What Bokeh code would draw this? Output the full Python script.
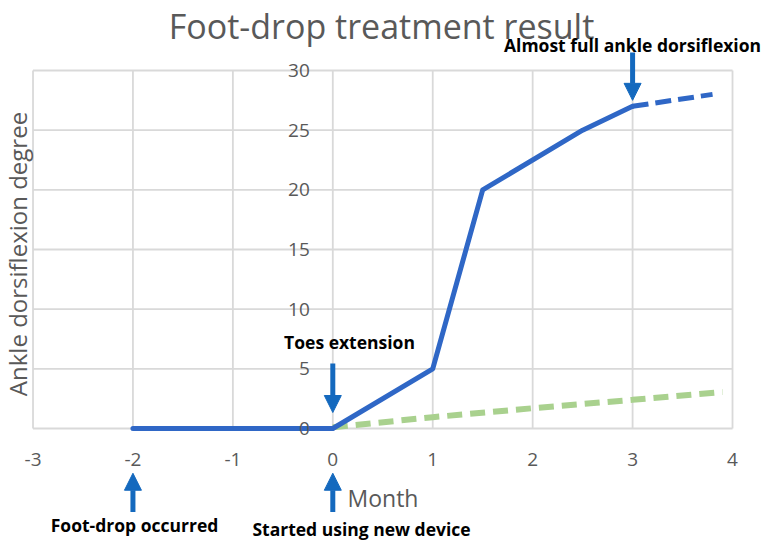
import math
from bokeh.plotting import figure
from bokeh.models import Range1d, FixedTicker, Label, Arrow, NormalHead
from bokeh.embed import file_html
from bokeh.resources import INLINE

# ---------------- data ----------------
title_text = "Foot-drop treatment result"
y_axis_title = "Ankle dorsiflexion degree"
x_axis_title = "Month"

x_ticks = [-3, -2, -1, 0, 1, 2, 3, 4]
x_tick_labels = ["-3", "-2", "-1", "0", "1", "2", "3", "4"]
y_ticks = [0, 5, 10, 15, 20, 25, 30]
y_tick_labels = ["0", "5", "10", "15", "20", "25", "30"]

months_measured = [-2, 0, 1, 1.5, 2.5, 3]
degree_measured = [0, 0, 5, 20, 25, 27]

months_projected = [3, 3.8]
degree_projected = [27, 28]

months_baseline = [0, 1, 2, 3, 3.9]
degree_baseline = [0.1, 0.95, 1.7, 2.4, 3.05]

event_labels = ["Foot-drop occurred", "Started using new device",
                "Toes extension", "Almost full ankle dorsiflexion"]
event_months = [-2, 0, 0, 3]

# ---------------- layout / style ----------------
W, H = 762, 541
PX_X = 99.93
X0_PIX = 332.3
PX_Y = 11.933
Y0_PIX = 428.0
x_start = -X0_PIX / PX_X
x_end = (W - X0_PIX) / PX_X
y_end = Y0_PIX / PX_Y
y_start = (Y0_PIX - H) / PX_Y

BLUE = "#2F67C6"
ARROW = "#1469BE"
GREEN = "#A9D18E"
GRID = "#D9D9D9"
GRAY = "#595959"
FONT = "Open Sans"


def sy(baseline_px, font_px):
    """screen y (from bottom) for an alphabetic baseline at a given pixel row"""
    return H - baseline_px + 0.32 * font_px


p = figure(width=W, height=H, x_range=Range1d(x_start, x_end),
           y_range=Range1d(y_start, y_end), output_backend="svg",
           toolbar_location=None, min_border=0, title=None)
p.outline_line_color = None
p.background_fill_color = "white"
p.border_fill_color = "white"
p.xgrid.visible = False
p.ygrid.visible = False

# grid / plot box
n_x = len(x_ticks)
n_y = len(y_ticks)
p.segment(x0=x_ticks, y0=[y_ticks[0]] * n_x, x1=x_ticks, y1=[y_ticks[-1]] * n_x,
          line_color=GRID, line_width=1.8)
p.segment(x0=[x_ticks[0]] * n_y, y0=y_ticks, x1=[x_ticks[-1]] * n_y, y1=y_ticks,
          line_color=GRID, line_width=1.8)

# axes
for ax, ticks, labels, standoff in ((p.xaxis[0], x_ticks, x_tick_labels, 24),
                                    (p.yaxis[0], y_ticks, y_tick_labels, 23)):
    ax.fixed_location = 0
    ax.ticker = FixedTicker(ticks=ticks)
    ax.major_label_overrides = {t: l for t, l in zip(ticks, labels)}
    ax.bounds = (ticks[0], ticks[-1])
    ax.axis_line_color = None
    ax.major_tick_line_color = None
    ax.minor_tick_line_color = None
    ax.major_tick_out = 0
    ax.major_tick_in = 0
    ax.major_label_standoff = standoff
    ax.major_label_text_font = FONT
    ax.major_label_text_font_size = "19px"
    ax.major_label_text_color = GRAY

# series
p.line(months_baseline, degree_baseline, line_width=6, line_color=GREEN,
       line_dash="15 8")
p.line(months_projected, degree_projected, line_width=5, line_color=BLUE,
       line_dash="16 7")
p.line(months_measured, degree_measured, line_width=5, line_color=BLUE,
       line_cap="round", line_join="round")

# arrows (tail y, tip y in data units)
arrow_spans = [(-7.0, -3.75), (-7.0, -3.75), (5.45, 1.34), (31.5, 27.5)]
for xm, (ys, ye) in zip(event_months, arrow_spans):
    head = NormalHead(size=17, fill_color=ARROW, line_color=ARROW, line_width=1)
    p.add_layout(Arrow(end=head, x_start=xm, y_start=ys, x_end=xm, y_end=ye,
                       line_width=5, line_color=ARROW))

# titles
p.add_layout(Label(x=381, y=sy(36, 34), x_units="screen", y_units="screen", text=title_text,
                   text_align="center", text_baseline="alphabetic",
                   text_font=FONT, text_font_size="34px", text_color=GRAY))
p.add_layout(Label(x=17, y=H - 253.5, x_units="screen", y_units="screen", text=y_axis_title,
                   angle=math.pi / 2, text_align="center", text_baseline="middle",
                   text_font=FONT, text_font_size="24px", text_color=GRAY))
p.add_layout(Label(x=347, y=sy(505, 23), x_units="screen", y_units="screen", text=x_axis_title,
                   text_align="left", text_baseline="alphabetic",
                   text_font=FONT, text_font_size="23px", text_color=GRAY))

# event annotations (pixel x centre, pixel baseline)
BOLD = 17.5
event_pos = [(134, 530), (361, 534), (349, 347), (632, 50)]
for txt, (px, pb) in zip(event_labels, event_pos):
    p.add_layout(Label(x=px, y=sy(pb, BOLD), x_units="screen", y_units="screen", text=txt,
                       text_align="center", text_baseline="alphabetic",
                       text_font=FONT, text_font_size=f"{BOLD}px", text_font_style="bold",
                       text_color="black"))

open("out.html", "w").write(file_html(p, INLINE))
